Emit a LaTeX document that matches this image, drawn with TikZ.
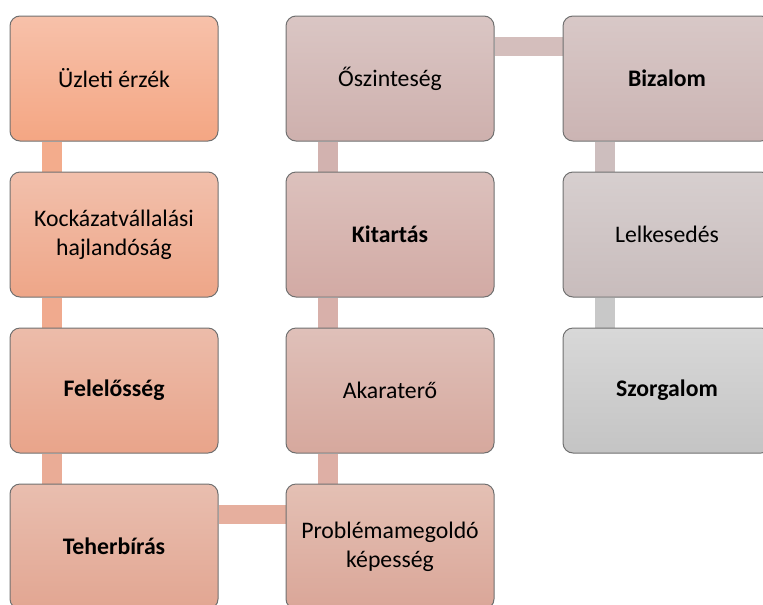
\documentclass[tikz,border=0pt]{standalone}
\usepackage{fontspec}
\setmainfont{Carlito}
\usetikzlibrary{backgrounds}
\definecolor{boxline}{RGB}{112,112,112}
\definecolor{t1}{HTML}{F7C1AA}\definecolor{u1}{HTML}{F4A683}
\definecolor{t2}{HTML}{F2C0AC}\definecolor{u2}{HTML}{EEA688}
\definecolor{t3}{HTML}{ECBCAA}\definecolor{u3}{HTML}{E9A48A}
\definecolor{t4}{HTML}{E9BEAF}\definecolor{u4}{HTML}{E2A692}
\definecolor{t5}{HTML}{E4C0B4}\definecolor{u5}{HTML}{DAA698}
\definecolor{t6}{HTML}{DFC0B9}\definecolor{u6}{HTML}{D6A89D}
\definecolor{t7}{HTML}{DCC1BD}\definecolor{u7}{HTML}{D2AAA4}
\definecolor{t8}{HTML}{DAC6C4}\definecolor{u8}{HTML}{CEB0AD}
\definecolor{t9}{HTML}{D8C8C7}\definecolor{u9}{HTML}{CBB4B3}
\definecolor{t10}{HTML}{D7CFCF}\definecolor{u10}{HTML}{C8BCBC}
\definecolor{t11}{HTML}{D8D8D8}\definecolor{u11}{HTML}{C4C4C4}
\begin{document}
\begin{tikzpicture}[x=0.75pt, y=-0.75pt,
  box/.style={draw=boxline, line width=0.75pt, rounded corners=7.5pt, minimum width=156pt, minimum height=93.75pt, align=center, inner sep=2pt, font=\fontsize{17.8}{21.7}\selectfont},
  shade1/.style={top color=t#1, bottom color=u#1},
  vbar/.style={line width=14.6pt},
  hbar/.style={line width=14.6pt}]
\clip (0,0) rectangle (763,604);
\node[box, shade1=1] (v1) at (114,78.5) {Üzleti érzék};
\node[box, shade1=2] (v2) at (114,234.5) {Kockázatvállalási\\hajlandóság};
\node[box, shade1=3] (v3) at (114,390.5) {\textbf{Felelősség}};
\node[box, shade1=4] (v4) at (114,546.5) {\textbf{Teherbírás}};
\node[box, shade1=5] (v5) at (390,546.5) {Problémamegoldó\\képesség};
\node[box, shade1=6] (v6) at (390,390.5) {Akaraterő};
\node[box, shade1=7] (v7) at (390,234.5) {\textbf{Kitartás}};
\node[box, shade1=8] (v8) at (390,78.5) {Őszinteség};
\node[box, shade1=9] (v9) at (667,78.5) {\textbf{Bizalom}};
\node[box, shade1=10] (v10) at (667,234.5) {Lelkesedés};
\node[box, shade1=11] (v11) at (667,390.5) {\textbf{Szorgalom}};

\begin{scope}[on background layer]
\draw[vbar, draw={rgb,255:red,243;green,172;blue,140}] ([xshift=-46.5pt]v1.south) -- ([xshift=-46.5pt]v2.north);
\draw[vbar, draw={rgb,255:red,240;green,170;blue,142}] ([xshift=-46.5pt]v2.south) -- ([xshift=-46.5pt]v3.north);
\draw[vbar, draw={rgb,255:red,234;green,172;blue,150}] ([xshift=-46.5pt]v3.south) -- ([xshift=-46.5pt]v4.north);
\draw[hbar, draw={rgb,255:red,230;green,175;blue,158}] ([yshift=-23.25pt]v4.north east) -- ([yshift=-23.25pt]v5.north west);
\draw[vbar, draw={rgb,255:red,222;green,175;blue,165}] ([xshift=-46.5pt]v5.north) -- ([xshift=-46.5pt]v6.south);
\draw[vbar, draw={rgb,255:red,216;green,176;blue,170}] ([xshift=-46.5pt]v6.north) -- ([xshift=-46.5pt]v7.south);
\draw[vbar, draw={rgb,255:red,210;green,178;blue,175}] ([xshift=-46.5pt]v7.north) -- ([xshift=-46.5pt]v8.south);
\draw[hbar, draw={rgb,255:red,212;green,190;blue,188}] ([yshift=-23.25pt]v8.north east) -- ([yshift=-23.25pt]v9.north west);
\draw[vbar, draw={rgb,255:red,205;green,190;blue,190}] ([xshift=-46.5pt]v9.south) -- ([xshift=-46.5pt]v10.north);
\draw[vbar, draw={rgb,255:red,200;green,200;blue,200}] ([xshift=-46.5pt]v10.south) -- ([xshift=-46.5pt]v11.north);
\end{scope}
\end{tikzpicture}
\end{document}
